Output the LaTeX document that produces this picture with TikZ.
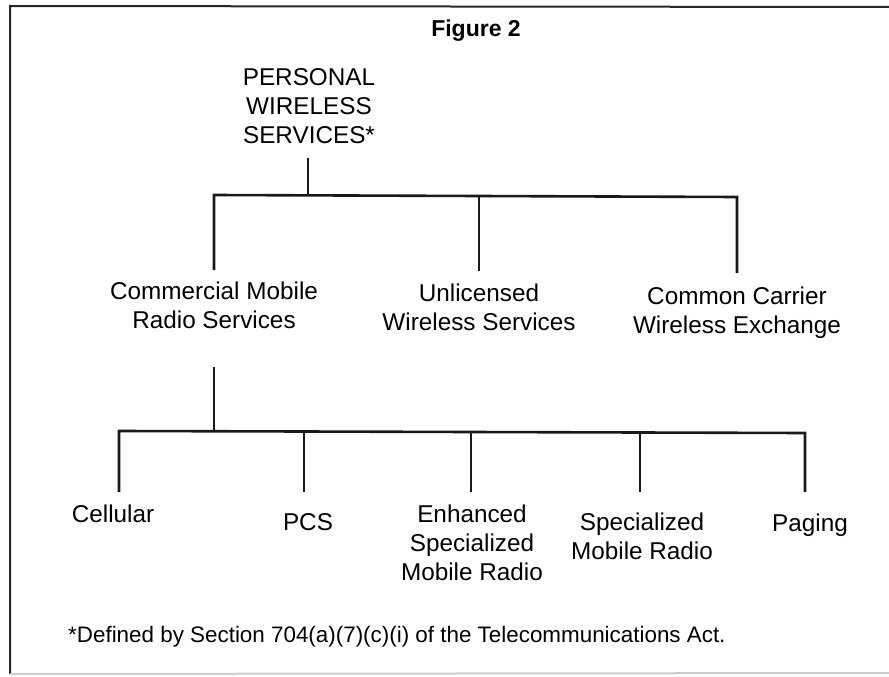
\documentclass[tikz,border=0pt]{standalone}
\usepackage{fontspec}
\setmainfont{Liberation Sans}
\begin{document}
\begin{tikzpicture}[x=1pt,y=-1pt,
  label/.style={inner sep=0pt,anchor=north,align=center,
    font=\fontsize{24.3}{29}\selectfont},
  branch/.style={line width=2.6pt,black!90},
  frameline/.style={line width=2pt,black!85},
  faintline/.style={line width=2pt,black!20}]
\useasboundingbox (0,0) rectangle (889,677);

% outer frame (open on the right)
\coordinate (fTL) at (10,6);
\coordinate (fTR) at (889,7);
\coordinate (fBL) at (10,674);
\coordinate (fBR) at (889,673);
\draw[frameline] (fTR) -- (fTL) -- (fBL);
\draw[faintline] (fBL) -- (fBR);

% title
\node (title) [inner sep=0pt,anchor=base,font=\fontsize{23}{28}\selectfont\bfseries]
  at (476,37) {Figure 2};

% root
\node (pws) [label] at (309,68.5) {PERSONAL\\WIRELESS\\SERVICES*};

% first level
\node (cmrs) [label] at (214,282) {Commercial Mobile\\Radio Services};
\node (uws)  [label] at (479,284) {Unlicensed\\Wireless Services};
\node (ccwe) [label] at (737,287) {Common Carrier\\Wireless Exchange};

% second level
\node (cell) [label] at (113,505) {Cellular};
\node (pcs)  [label] at (308,513) {PCS};
\node (esmr) [label] at (472,505) {Enhanced\\Specialized\\Mobile Radio};
\node (smr)  [label] at (642,513) {Specialized\\Mobile Radio};
\node (pag)  [label] at (810,514) {Paging};

% footnote
\node (note) [inner sep=0pt,anchor=north west,font=\fontsize{22.4}{27}\selectfont]
  at (68,626) {*Defined by Section 704(a)(7)(c)(i) of the Telecommunications Act.};

% upper tree
\coordinate (rootTop) at (308,158);
\coordinate (rootJ)   at (308,195.5);
\coordinate (busAL)   at (214,195);
\coordinate (busAM)   at (479,196);
\coordinate (busAR)   at (737,197);
\coordinate (endA1)   at (214,270);
\coordinate (endA2)   at (479,271);
\coordinate (endA3)   at (737,273);
\draw[branch] (rootTop) -- (rootJ);
\draw[branch] (endA1) -- (busAL) -- (busAM) -- (busAR) -- (endA3);
\draw[branch] (busAM) -- (endA2);

% lower tree
\coordinate (cmTop)  at (214,367);
\coordinate (cmJ)    at (214,431.5);
\coordinate (busBL)  at (119,431);
\coordinate (busB2)  at (304,431.5);
\coordinate (busB3)  at (471,432);
\coordinate (busB4)  at (640,432.5);
\coordinate (busBR)  at (805,433);
\coordinate (endB1)  at (119,492);
\coordinate (endB2)  at (304,492);
\coordinate (endB3)  at (471,492);
\coordinate (endB4)  at (640,492);
\coordinate (endB5)  at (805,492);
\draw[branch] (cmTop) -- (cmJ);
\draw[branch] (endB1) -- (busBL) -- (busB2) -- (busB3) -- (busB4) -- (busBR) -- (endB5);
\draw[branch] (busB2) -- (endB2);
\draw[branch] (busB3) -- (endB3);
\draw[branch] (busB4) -- (endB4);
\end{tikzpicture}
\end{document}
